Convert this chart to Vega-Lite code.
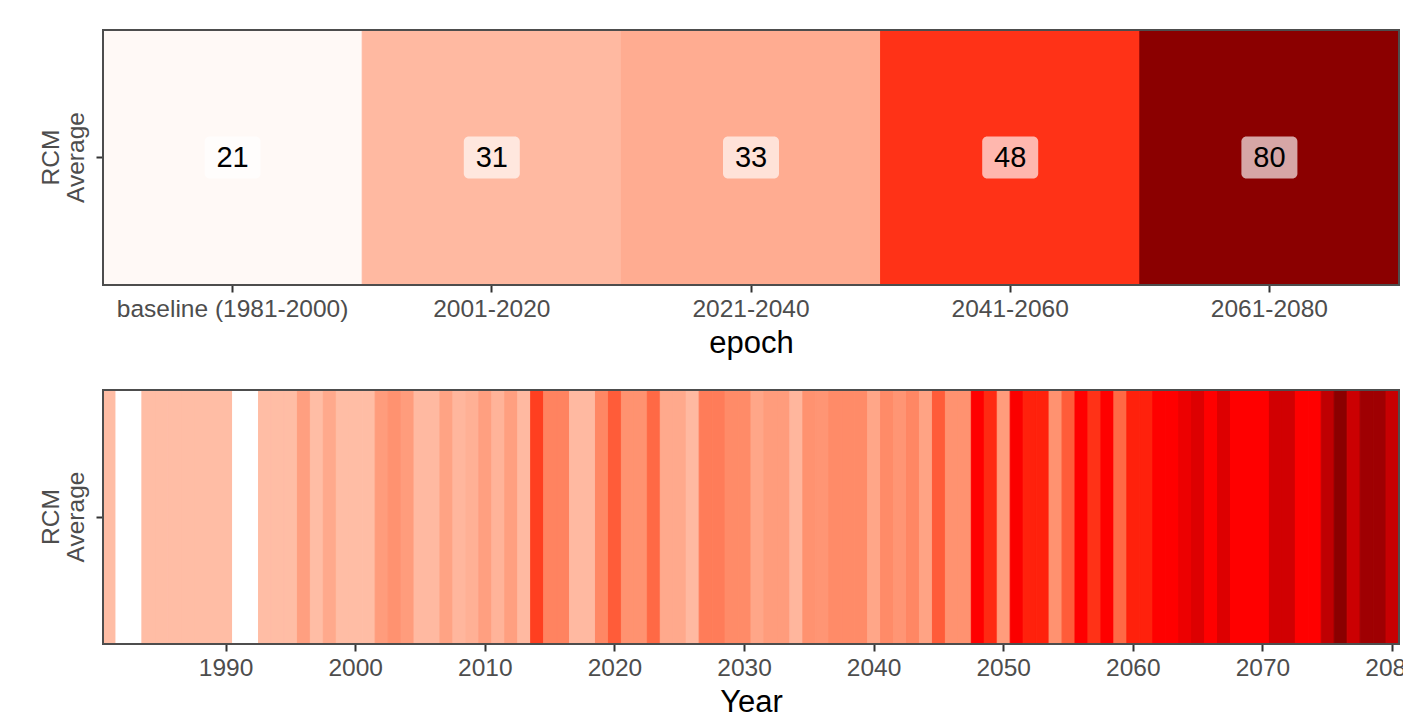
{
  "$schema": "https://vega.github.io/schema/vega-lite/v6.json",
  "padding": {"left": 37, "top": 28, "right": 4, "bottom": 0},
  "background": "#ffffff",
  "config": {
    "font": "Liberation Sans",
    "view": {"stroke": "#4d4d4d", "strokeWidth": 2},
    "style": {"cell": {"strokeForeground": true}},
    "axis": {
      "labelFont": "Liberation Sans",
      "labelFontSize": 24.5,
      "labelColor": "#4d4d4d",
      "labelLimit": 0,
      "tickColor": "#333333",
      "tickSize": 7,
      "tickWidth": 2,
      "domain": false,
      "grid": false,
      "titleFont": "Liberation Sans",
      "titleFontSize": 31,
      "titleFontWeight": "normal",
      "titleColor": "#000000",
      "labelPadding": 5,
      "titlePadding": 8
    },
    "concat": {"spacing": 28}
  },
  "resolve": {"scale": {"color": "independent", "stroke": "independent"}},
  "vconcat": [
    {
      "width": 1296,
      "height": 255,
      "data": {
        "values": [
          {"epoch": "baseline (1981-2000)", "model": "RCM Average", "value": 21},
          {"epoch": "2001-2020", "model": "RCM Average", "value": 31},
          {"epoch": "2021-2040", "model": "RCM Average", "value": 33},
          {"epoch": "2041-2060", "model": "RCM Average", "value": 48},
          {"epoch": "2061-2080", "model": "RCM Average", "value": 80}
        ]
      },
      "encoding": {
        "x": {
          "field": "epoch",
          "type": "nominal",
          "sort": null,
          "title": "epoch",
          "scale": {"paddingInner": 0, "paddingOuter": 0},
          "axis": {"labelAngle": 0}
        },
        "y": {
          "field": "model",
          "type": "nominal",
          "title": null,
          "axis": {
            "labelAngle": -90,
            "labelExpr": "['RCM', 'Average']",
            "labelLineHeight": 25,
            "labelAlign": "center",
            "labelBaseline": "bottom",
            "labelPadding": 33
          }
        }
      },
      "layer": [
        {
          "mark": {"type": "rect", "strokeWidth": 1},
          "encoding": {
            "color": {
              "field": "value",
              "type": "quantitative",
              "scale": {"domain": [20, 50, 80], "range": ["#ffffff", "#ff0000", "#8b0000"], "interpolate": "lab"},
              "legend": null
            },
            "stroke": {
              "field": "value",
              "type": "quantitative",
              "scale": {"domain": [20, 50, 80], "range": ["#ffffff", "#ff0000", "#8b0000"], "interpolate": "lab"},
              "legend": null
            }
          }
        },
        {
          "mark": {"type": "rect", "width": 56, "height": 42, "cornerRadius": 5, "fill": "#ffffff", "fillOpacity": 0.65}
        },
        {
          "mark": {"type": "text", "fontSize": 29, "color": "#000000", "font": "Liberation Sans"},
          "encoding": {"text": {"field": "value", "type": "quantitative"}}
        }
      ]
    },
    {
      "width": 1296,
      "height": 254,
      "data": {
        "values": [
          {"Year": 1981, "model": "RCM Average", "value": 25},
          {"Year": 1982, "model": "RCM Average", "value": 4},
          {"Year": 1983, "model": "RCM Average", "value": 4},
          {"Year": 1984, "model": "RCM Average", "value": 25},
          {"Year": 1985, "model": "RCM Average", "value": 25},
          {"Year": 1986, "model": "RCM Average", "value": 25},
          {"Year": 1987, "model": "RCM Average", "value": 25},
          {"Year": 1988, "model": "RCM Average", "value": 25},
          {"Year": 1989, "model": "RCM Average", "value": 25},
          {"Year": 1990, "model": "RCM Average", "value": 25},
          {"Year": 1991, "model": "RCM Average", "value": 4},
          {"Year": 1992, "model": "RCM Average", "value": 4},
          {"Year": 1993, "model": "RCM Average", "value": 25},
          {"Year": 1994, "model": "RCM Average", "value": 25},
          {"Year": 1995, "model": "RCM Average", "value": 25},
          {"Year": 1996, "model": "RCM Average", "value": 34},
          {"Year": 1997, "model": "RCM Average", "value": 25},
          {"Year": 1998, "model": "RCM Average", "value": 31},
          {"Year": 1999, "model": "RCM Average", "value": 25},
          {"Year": 2000, "model": "RCM Average", "value": 25},
          {"Year": 2001, "model": "RCM Average", "value": 25},
          {"Year": 2002, "model": "RCM Average", "value": 35},
          {"Year": 2003, "model": "RCM Average", "value": 38},
          {"Year": 2004, "model": "RCM Average", "value": 35},
          {"Year": 2005, "model": "RCM Average", "value": 26},
          {"Year": 2006, "model": "RCM Average", "value": 26},
          {"Year": 2007, "model": "RCM Average", "value": 33},
          {"Year": 2008, "model": "RCM Average", "value": 27},
          {"Year": 2009, "model": "RCM Average", "value": 29},
          {"Year": 2010, "model": "RCM Average", "value": 34},
          {"Year": 2011, "model": "RCM Average", "value": 28},
          {"Year": 2012, "model": "RCM Average", "value": 34},
          {"Year": 2013, "model": "RCM Average", "value": 26},
          {"Year": 2014, "model": "RCM Average", "value": 58},
          {"Year": 2015, "model": "RCM Average", "value": 42},
          {"Year": 2016, "model": "RCM Average", "value": 42},
          {"Year": 2017, "model": "RCM Average", "value": 26},
          {"Year": 2018, "model": "RCM Average", "value": 26},
          {"Year": 2019, "model": "RCM Average", "value": 41},
          {"Year": 2020, "model": "RCM Average", "value": 52},
          {"Year": 2021, "model": "RCM Average", "value": 38},
          {"Year": 2022, "model": "RCM Average", "value": 38},
          {"Year": 2023, "model": "RCM Average", "value": 49},
          {"Year": 2024, "model": "RCM Average", "value": 31},
          {"Year": 2025, "model": "RCM Average", "value": 31},
          {"Year": 2026, "model": "RCM Average", "value": 26},
          {"Year": 2027, "model": "RCM Average", "value": 44},
          {"Year": 2028, "model": "RCM Average", "value": 44},
          {"Year": 2029, "model": "RCM Average", "value": 40},
          {"Year": 2030, "model": "RCM Average", "value": 40},
          {"Year": 2031, "model": "RCM Average", "value": 32},
          {"Year": 2032, "model": "RCM Average", "value": 35},
          {"Year": 2033, "model": "RCM Average", "value": 35},
          {"Year": 2034, "model": "RCM Average", "value": 27},
          {"Year": 2035, "model": "RCM Average", "value": 38},
          {"Year": 2036, "model": "RCM Average", "value": 37},
          {"Year": 2037, "model": "RCM Average", "value": 40},
          {"Year": 2038, "model": "RCM Average", "value": 40},
          {"Year": 2039, "model": "RCM Average", "value": 40},
          {"Year": 2040, "model": "RCM Average", "value": 32},
          {"Year": 2041, "model": "RCM Average", "value": 40},
          {"Year": 2042, "model": "RCM Average", "value": 37},
          {"Year": 2043, "model": "RCM Average", "value": 41},
          {"Year": 2044, "model": "RCM Average", "value": 33},
          {"Year": 2045, "model": "RCM Average", "value": 52},
          {"Year": 2046, "model": "RCM Average", "value": 38},
          {"Year": 2047, "model": "RCM Average", "value": 38},
          {"Year": 2048, "model": "RCM Average", "value": 64},
          {"Year": 2049, "model": "RCM Average", "value": 61},
          {"Year": 2050, "model": "RCM Average", "value": 35},
          {"Year": 2051, "model": "RCM Average", "value": 66},
          {"Year": 2052, "model": "RCM Average", "value": 62},
          {"Year": 2053, "model": "RCM Average", "value": 62},
          {"Year": 2054, "model": "RCM Average", "value": 38},
          {"Year": 2055, "model": "RCM Average", "value": 52},
          {"Year": 2056, "model": "RCM Average", "value": 64},
          {"Year": 2057, "model": "RCM Average", "value": 60},
          {"Year": 2058, "model": "RCM Average", "value": 64},
          {"Year": 2059, "model": "RCM Average", "value": 49},
          {"Year": 2060, "model": "RCM Average", "value": 62},
          {"Year": 2061, "model": "RCM Average", "value": 62},
          {"Year": 2062, "model": "RCM Average", "value": 64},
          {"Year": 2063, "model": "RCM Average", "value": 64},
          {"Year": 2064, "model": "RCM Average", "value": 73},
          {"Year": 2065, "model": "RCM Average", "value": 81},
          {"Year": 2066, "model": "RCM Average", "value": 64},
          {"Year": 2067, "model": "RCM Average", "value": 81},
          {"Year": 2068, "model": "RCM Average", "value": 64},
          {"Year": 2069, "model": "RCM Average", "value": 64},
          {"Year": 2070, "model": "RCM Average", "value": 64},
          {"Year": 2071, "model": "RCM Average", "value": 87},
          {"Year": 2072, "model": "RCM Average", "value": 87},
          {"Year": 2073, "model": "RCM Average", "value": 64},
          {"Year": 2074, "model": "RCM Average", "value": 64},
          {"Year": 2075, "model": "RCM Average", "value": 96},
          {"Year": 2076, "model": "RCM Average", "value": 124},
          {"Year": 2077, "model": "RCM Average", "value": 90},
          {"Year": 2078, "model": "RCM Average", "value": 113},
          {"Year": 2079, "model": "RCM Average", "value": 113},
          {"Year": 2080, "model": "RCM Average", "value": 92}
        ]
      },
      "mark": {"type": "rect", "strokeWidth": 1},
      "encoding": {
        "x": {
          "field": "Year",
          "type": "ordinal",
          "title": "Year",
          "scale": {"paddingInner": 0, "paddingOuter": 0},
          "axis": {"labelAngle": 0, "values": [1990, 2000, 2010, 2020, 2030, 2040, 2050, 2060, 2070, 2080], "titlePadding": 8}
        },
        "y": {
          "field": "model",
          "type": "nominal",
          "title": null,
          "axis": {
            "labelAngle": -90,
            "labelExpr": "['RCM', 'Average']",
            "labelLineHeight": 25,
            "labelAlign": "center",
            "labelBaseline": "bottom",
            "labelPadding": 33
          }
        },
        "color": {
          "field": "value",
          "type": "quantitative",
          "scale": {"domain": [4, 64, 124], "range": ["#ffffff", "#ff0000", "#8b0000"], "interpolate": "lab"},
          "legend": null
        },
        "stroke": {
          "field": "value",
          "type": "quantitative",
          "scale": {"domain": [4, 64, 124], "range": ["#ffffff", "#ff0000", "#8b0000"], "interpolate": "lab"},
          "legend": null
        }
      }
    }
  ]
}
